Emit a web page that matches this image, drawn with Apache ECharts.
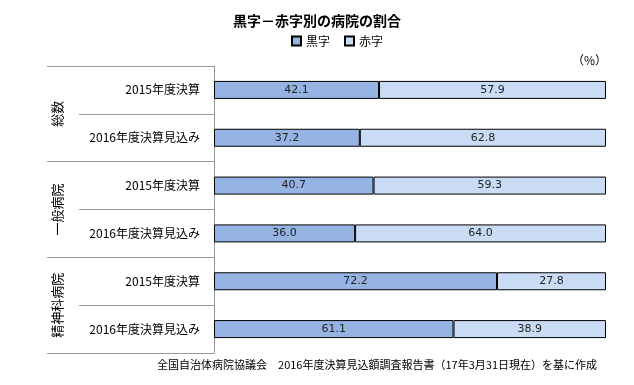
<!DOCTYPE html>
<html><head><meta charset="utf-8">
<script src="https://cdn.jsdelivr.net/npm/echarts@6/dist/echarts.min.js"></script>
<style>html,body{margin:0;padding:0;background:#fff}#c{width:634px;height:385px}</style>
</head><body><div id="c"></div>
<script>
const subCategories = ['2015年度決算','2016年度決算見込み','2015年度決算','2016年度決算見込み','2015年度決算','2016年度決算見込み'];
const groups = ['総数','一般病院','精神科病院'];
const kuroji = [42.1, 37.2, 40.7, 36.0, 72.2, 61.1];
const akaji = [57.9, 62.8, 59.3, 64.0, 27.8, 38.9];
const FONT = '"Noto Sans CJK JP", sans-serif';
const chart = echarts.init(document.getElementById('c'));
chart.setOption({
  animation: false,
  textStyle: {fontFamily: FONT},
  title: [
    {text: '黒字－赤字別の病院の割合', left: 'center', top: 9, textStyle: {fontSize: 14, fontWeight: 'bold', color: '#000', fontFamily: FONT}},
    {text: '（%）', right: 22, top: 49, textStyle: {fontSize: 12, fontWeight: 'normal', color: '#000', fontFamily: FONT}},
    {text: '全国自治体病院協議会　2016年度決算見込額調査報告書（17年3月31日現在）を基に作成', right: 32, top: 354, textStyle: {fontSize: 11, fontWeight: 'normal', color: '#000', fontFamily: FONT}}
  ],
  legend: {
    top: 35, left: 291, padding: 0, icon: 'rect', itemWidth: 9, itemHeight: 9, itemGap: 14,
    textStyle: {fontSize: 12, color: '#000', fontFamily: FONT},
    data: ['黒字','赤字']
  },
  grid: {left: 214, right: 28, top: 66, bottom: 32, containLabel: false},
  xAxis: {type: 'value', min: 0, max: 100, show: false},
  yAxis: [
    {type: 'category', inverse: true, data: subCategories,
     axisLine: {show: true, lineStyle: {color: '#999'}},
     axisTick: {show: true, length: 135, interval: 0, lineStyle: {color: '#999'}},
     axisLabel: {margin: 14, fontSize: 12, color: '#000', fontFamily: FONT, interval: 0}
    },
    {type: 'category', inverse: true, data: groups, position: 'left', offset: 135,
     axisLine: {show: false},
     axisTick: {show: true, length: 32, interval: 0, lineStyle: {color: '#999'}},
     axisLabel: {margin: 15, fontSize: 13, color: '#000', fontFamily: FONT, interval: 0, rotate: 90}
    }
  ],
  series: [
    {name: '黒字', type: 'bar', stack: 'a', yAxisIndex: 0, barWidth: 18, data: kuroji,
     itemStyle: {color: '#95B3E3', borderColor: '#000', borderWidth: 1},
     label: {show: true, position: 'inside', color: '#222', fontSize: 11, fontFamily: 'Verdana, "DejaVu Sans", sans-serif', formatter: p => p.value.toFixed(1)}},
    {name: '赤字', type: 'bar', stack: 'a', yAxisIndex: 0, barWidth: 18, data: akaji,
     itemStyle: {color: '#CADCF5', borderColor: '#000', borderWidth: 1},
     label: {show: true, position: 'inside', color: '#222', fontSize: 11, fontFamily: 'Verdana, "DejaVu Sans", sans-serif', formatter: p => p.value.toFixed(1)}}
  ]
});
</script></body></html>
